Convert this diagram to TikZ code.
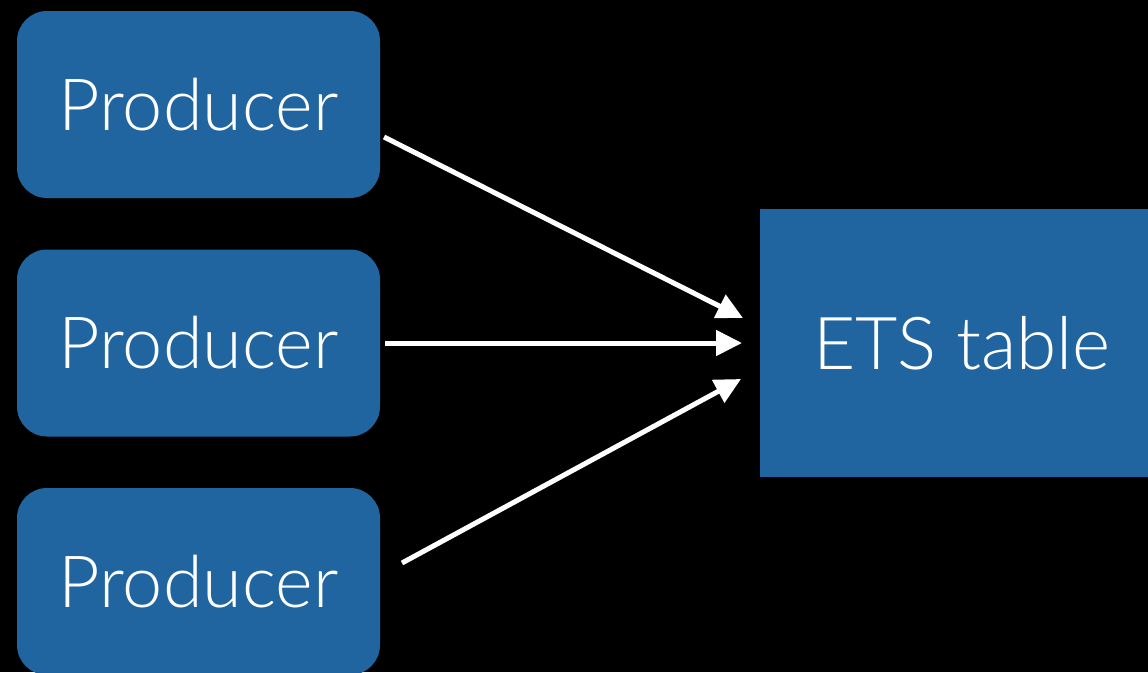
\documentclass[tikz,border=0pt]{standalone}
\usepackage{fontspec}
\setmainfont{Lato}[UprightFont={* Light}]
\usetikzlibrary{arrows.meta}
\definecolor{boxblue}{RGB}{33,101,160}
\tikzset{
  prodbox/.style={fill=boxblue, rounded corners=30pt, minimum width=363pt, minimum height=187pt,
    inner sep=0pt, text=white, font=\fontsize{72}{82}\selectfont},
  tablebox/.style={fill=boxblue, minimum width=404pt, minimum height=268pt,
    inner sep=0pt, text=white, font=\fontsize{73}{83}\selectfont},
  flow/.style={white, line width=5pt, -{Triangle[length=26pt,width=25pt]}}
}
\begin{document}
\begin{tikzpicture}[x=1pt,y=-1pt]
  \fill[black] (0,0) rectangle (1148,672);
  \useasboundingbox (0,0) rectangle (1148,672);
  \node[prodbox] (p1) at (198.5,104.5) {Producer};
  \node[prodbox] (p2) at (198.5,343) {Producer};
  \node[prodbox] (p3) at (198.5,581.5) {Producer};
  \begin{scope}
    \clip (0,0) rectangle (1148,672);
    \node[tablebox] (ets) at (962,343) {ETS table};
  \end{scope}
  \coordinate (s1) at (384,137);
  \coordinate (e1) at (743,318);
  \coordinate (s2) at (385,343);
  \coordinate (e2) at (742,343);
  \coordinate (s3) at (402,563);
  \coordinate (e3) at (741,379);
  \draw[flow] (s1) -- (e1);
  \draw[flow] (s2) -- (e2);
  \draw[flow] (s3) -- (e3);
\end{tikzpicture}
\end{document}
